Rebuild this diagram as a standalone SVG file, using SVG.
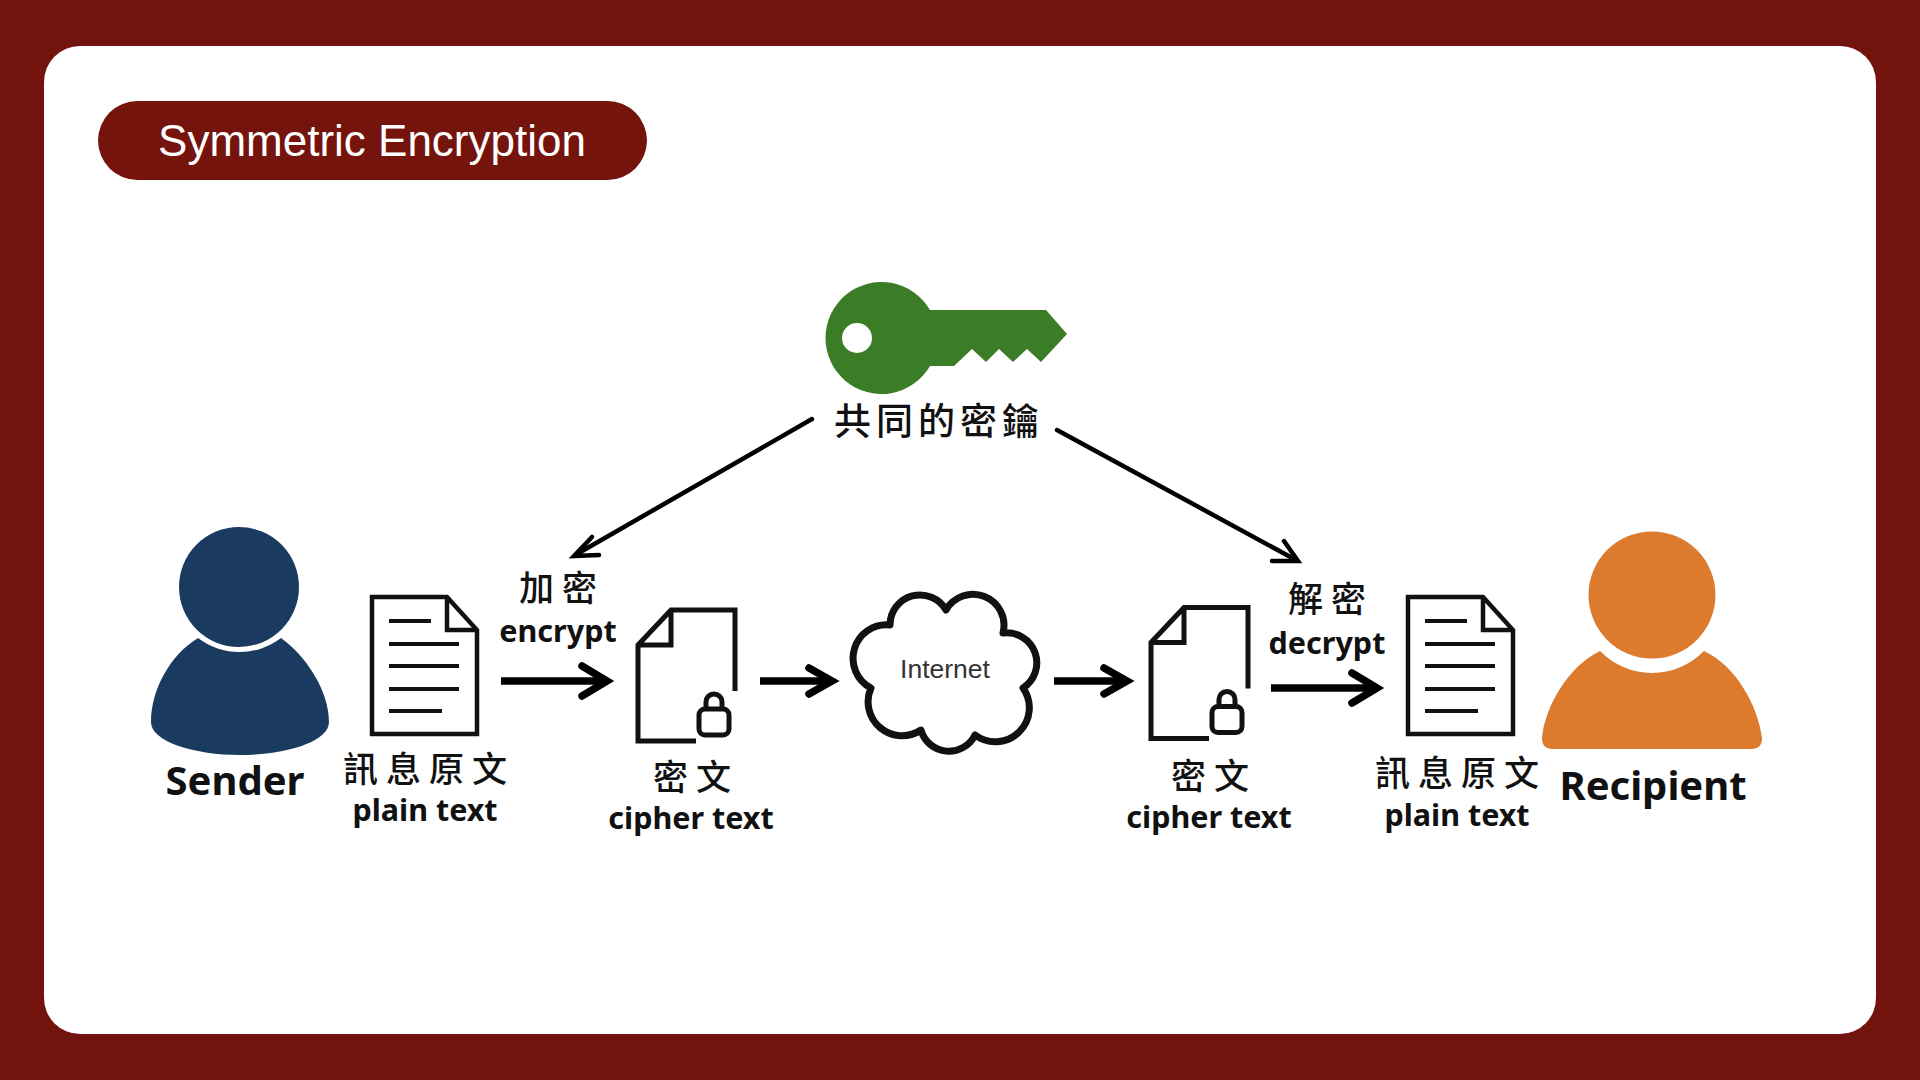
<svg xmlns="http://www.w3.org/2000/svg" width="1920" height="1080" viewBox="0 0 1920 1080">
<style>
.cjk{font-family:"Noto Sans CJK TC","Noto Sans CJK SC",sans-serif;font-weight:500;font-size:35px;fill:#111;text-anchor:middle;letter-spacing:8px}
.en{font-family:"Noto Sans","Liberation Sans",sans-serif;font-weight:700;font-size:30.500px;fill:#111;text-anchor:middle}
.big{font-size:40px}
.doc,.line,.lock{fill:none;stroke:#111}
.doc{stroke-width:4.500;stroke-linejoin:miter}
.line{stroke-width:4}
.lock{stroke-width:5;stroke-linejoin:round}
.conn{fill:none;stroke:#000;stroke-linejoin:miter}
</style>
<defs>
<g id="plainDoc"><path class="doc" d="M372,597H447L477,630V734H372ZM447,597V630H477"/><path class="line" d="M389,621H431M389,644H459M389,666H459M389,689H459M389,711H442"/></g>
<g id="cipherDoc"><path class="doc" style="stroke-width:5" d="M696,741H638V645L671,610H735V691M671,610V645H638"/><rect class="lock" x="699" y="709" width="30" height="26" rx="6"/><path class="lock" d="M706,709V702A8 8 0 0 1 722,702V709"/></g>
</defs>
<rect width="1920" height="1080" fill="#72130d"/>
<rect x="44" y="46" width="1832" height="988" rx="36" fill="#fff"/>
<g id="title"><rect x="98" y="101" width="549" height="79" rx="39.500" fill="#74140d"/><text x="372" y="155.500" font-family="Liberation Sans,sans-serif" font-size="44" fill="#fff" text-anchor="middle">Symmetric Encryption</text></g>
<g id="connectors">
<g class="conn" stroke-width="4.500" stroke-linecap="round"><path d="M812,419L577,554"/><path d="M592,537L574,556L599,555"/><path d="M1057,430L1296,560"/><path d="M1272,561L1298,561L1284,541"/></g>
<g class="conn" stroke-width="7.500"><path d="M501,681H604"/><path stroke-linecap="round" d="M582,666L607,681L582,696"/><path d="M760,681H828"/><path stroke-linecap="round" d="M809,668L832,681L809,694"/><path d="M1054,681H1123"/><path stroke-linecap="round" d="M1104,668L1127,681L1104,694"/><path d="M1271,688H1374"/><path stroke-linecap="round" d="M1352,673L1377,688L1352,703"/></g>
</g>
<g id="key"><path fill="#3a7d26" fill-rule="evenodd" d="M930,310H1046L1067,334L1041,362L1027,349L1013,362L999,349L986,362L972,349L954,366H930A56 56 0 1 1 930,310ZM872,338A15 15 0 1 0 842,338A15 15 0 1 0 872,338Z"/><text class="cjk" x="939" y="435" style="font-size:37px;letter-spacing:5px">共同的密鑰</text></g>
<g id="sender"><circle cx="239" cy="587" r="60" fill="#1a3a60"/><path fill="#1a3a60" d="M198,638C170,655 151,690 151,722C151,742 195,755 240,755C285,755 329,742 329,722C329,690 305,655 281,638A68.500 68.500 0 0 1 198,638Z"/><text class="en big" x="235" y="795">Sender</text></g>
<g id="plain-left"><use href="#plainDoc"/><text class="cjk" x="429" y="782">訊息原文</text><text class="en" x="425" y="821">plain text</text></g>
<g id="encrypt"><text class="cjk" x="562" y="601">加密</text><text class="en" x="558" y="642">encrypt</text></g>
<g id="cipher-left"><use href="#cipherDoc"/><text class="cjk" x="696" y="790">密文</text><text class="en" x="691" y="829">cipher text</text></g>
<g id="internet"><path fill="none" stroke="#111" stroke-width="7" stroke-linejoin="round" transform="translate(-2,0)" d="M948,610A31 31 0 0 1 1005,633A30 30 0 0 1 1025,688A34 34 0 0 1 977,735A29 29 0 0 1 923,730A34 34 0 0 1 873,688A33.500 33.500 0 0 1 892,625A30 30 0 0 1 948,610Z"/><text x="945" y="678" font-family="Liberation Sans,sans-serif" font-size="26.500" fill="#333" text-anchor="middle">Internet</text></g>
<g id="cipher-right"><use href="#cipherDoc" x="513" y="-2.500"/><text class="cjk" x="1214" y="789">密文</text><text class="en" x="1209" y="828">cipher text</text></g>
<g id="decrypt"><text class="cjk" x="1331" y="612">解密</text><text class="en" x="1327" y="654">decrypt</text></g>
<g id="plain-right"><use href="#plainDoc" x="1036"/><text class="cjk" x="1461" y="786">訊息原文</text><text class="en" x="1457" y="826">plain text</text></g>
<g id="recipient"><circle cx="1652" cy="595" r="63.500" fill="#dc7a2e"/><path fill="#dc7a2e" d="M1600,651C1570,665 1545,705 1542,738Q1542,749 1553,749H1751Q1762,749 1762,738C1758,705 1735,665 1704,651A72.500 72.500 0 0 1 1600,651Z"/><text class="en big" x="1653" y="800">Recipient</text></g>
</svg>
